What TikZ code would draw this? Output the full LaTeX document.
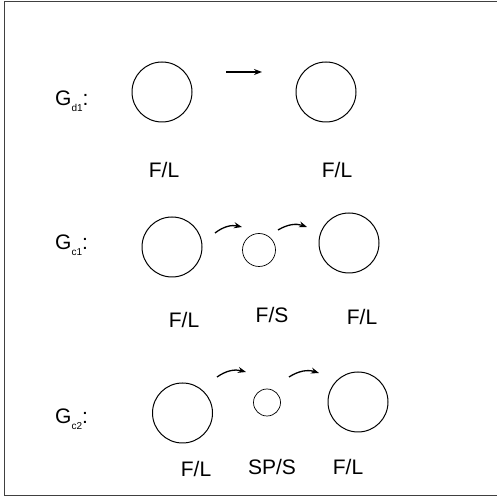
\documentclass[tikz,border=0pt]{standalone}
\usepackage{fontspec}
\setmainfont{Liberation Sans}
\usetikzlibrary{arrows.meta}
\begin{document}
\begin{tikzpicture}[x=1pt,y=1pt,
  frame/.style={line width=1.6pt,draw=black!75},
  bigstate/.style={circle,draw,line width=1pt,inner sep=0pt,minimum size=60pt},
  smallstate/.style={circle,draw,line width=0.7pt,inner sep=0pt},
  lbl/.style={anchor=base,inner sep=0pt,font=\fontsize{21}{21}\selectfont},
  gname/.style={anchor=base west,inner sep=0pt,font=\fontsize{21}{21}\selectfont},
  subs/.style={},
  straight/.style={line width=1.3pt,-{Stealth[length=8pt,width=6pt]}},
  curved/.style={line width=1.3pt,-{Stealth[length=8pt,width=6pt]},bend left=25}
]
\newcommand{\gsub}[1]{\raisebox{-6pt}{\fontsize{10}{10}\selectfont #1}}
\useasboundingbox (0,0) rectangle (496,500);
% open frame (right side runs off the page)
\draw[frame] (497,498.5) -- (4.5,498.5) -- (4.5,4.5) -- (497,4.5);

% ---- G_d1 ----
\node[gname] (gd1) at (55,394) {G\gsub{d1}:};
\node[bigstate] (d1a) at (162,408) {};
\node[bigstate] (d1b) at (326,408) {};
\coordinate (d1s) at (226,428);
\coordinate (d1e) at (262,428);
\draw[straight] (d1s) -- (d1e);
\node[lbl] (d1la) at (164,322) {F/L};
\node[lbl] (d1lb) at (337,322) {F/L};

% ---- G_c1 ----
\node[gname] (gc1) at (55,250) {G\gsub{c1}:};
\node[bigstate] (c1a) at (172,253) {};
\node[smallstate,minimum size=33pt] (c1b) at (259,250) {};
\node[bigstate] (c1c) at (349,257) {};
\coordinate (c1s1) at (215,267);
\coordinate (c1e1) at (242,273);
\coordinate (c1s2) at (278,270);
\coordinate (c1e2) at (307,273);
\draw[curved] (c1s1) to (c1e1);
\draw[curved] (c1s2) to (c1e2);
\node[lbl] (c1la) at (184,172) {F/L};
\node[lbl] (c1lb) at (272,177) {F/S};
\node[lbl] (c1lc) at (362,175) {F/L};

% ---- G_c2 ----
\node[gname] (gc2) at (55,76) {G\gsub{c2}:};
\node[bigstate] (c2a) at (182.5,87) {};
\node[smallstate,minimum size=27pt] (c2b) at (267,97.5) {};
\node[bigstate] (c2c) at (358,98) {};
\coordinate (c2s1) at (217,123);
\coordinate (c2e1) at (246,128);
\coordinate (c2s2) at (289,123);
\coordinate (c2e2) at (319,127);
\draw[curved] (c2s1) to (c2e1);
\draw[curved] (c2s2) to (c2e2);
\node[lbl] (c2la) at (196,23) {F/L};
\node[lbl] (c2lb) at (272,25) {SP/S};
\node[lbl] (c2lc) at (348,25) {F/L};
\end{tikzpicture}
\end{document}
